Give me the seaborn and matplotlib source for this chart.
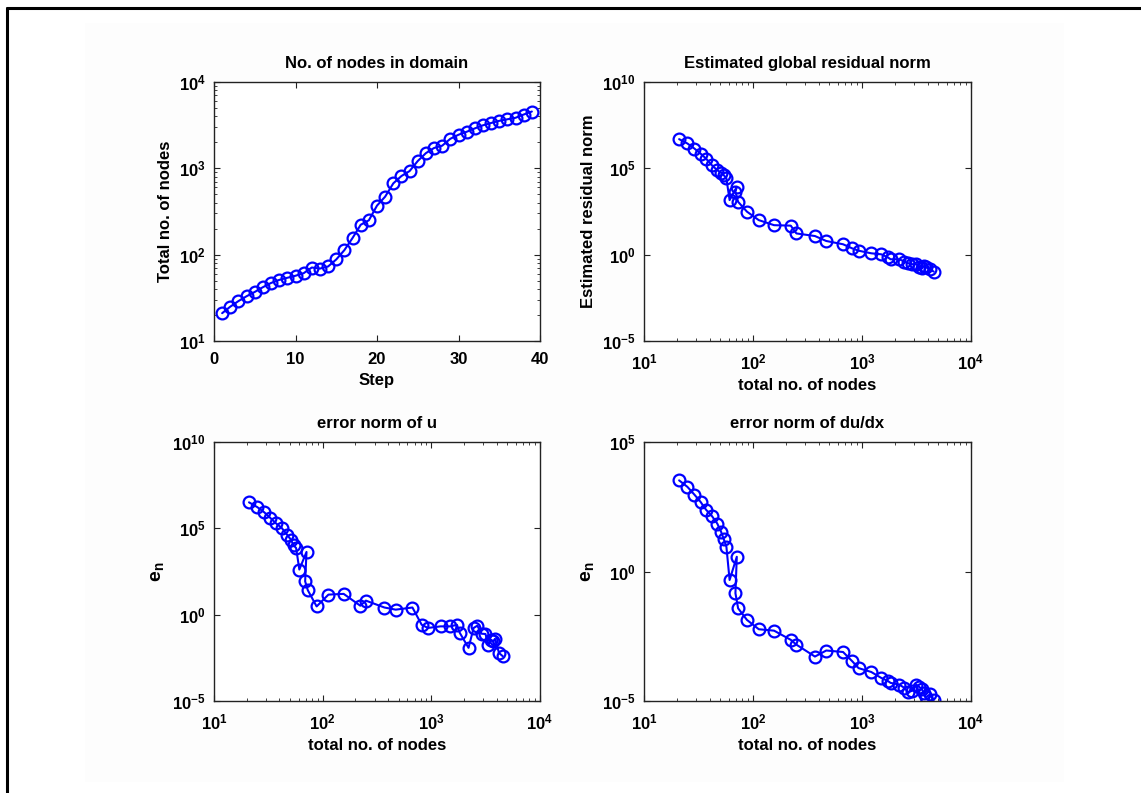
import numpy as np
import pandas as pd
import matplotlib
matplotlib.use("Agg")
import matplotlib.pyplot as plt
from matplotlib.ticker import FixedLocator, FixedFormatter, LogLocator, NullLocator, NullFormatter
from matplotlib.lines import Line2D
from matplotlib.patches import Rectangle
import seaborn as sns

# ---- data -------------------------------------------------------------
steps = list(range(1, 40))

total_nodes = [21, 25, 29, 33, 37, 42, 47, 51, 54, 57,
               61, 71, 69, 73, 88, 113, 156, 222, 250, 370,
               470, 670, 815, 930, 1215, 1500, 1720, 1830, 2200, 2450,
               2650, 2900, 3150, 3350, 3550, 3700, 3850, 4200, 4550]

residual_norm = [4.9e6, 2.75e6, 1.4e6, 7.2e5, 3.7e5, 1.5e5, 7.8e4, 5.5e4, 4.0e4, 2.6e4,
                 1.45e3, 8.5e3, 4.4e3, 1.15e3, 310, 100, 51, 48, 17, 12,
                 6.2, 4.0, 2.3, 1.7, 1.2, 1.05, 0.71, 0.54, 0.54, 0.40,
                 0.32, 0.28, 0.28, 0.20, 0.16, 0.22, 0.19, 0.14, 0.105]

error_u = [3.2e6, 1.7e6, 8.5e5, 4.0e5, 2.0e5, 1.05e5, 4.3e4, 2.2e4, 1.05e4, 7.2e3,
           410, 4.3e3, 85, 26, 3.0, 14.5, 16, 3.3, 6.5, 2.6,
           1.95, 2.6, 0.26, 0.17, 0.21, 0.21, 0.26, 0.087, 0.012, 0.17,
           0.23, 0.079, 0.076, 0.018, 0.035, 0.028, 0.04, 0.006, 0.0039]

error_dudx = [3.3e3, 1.86e3, 930, 490, 245, 138, 71, 34, 17.4, 9.1,
              0.47, 3.7, 0.145, 0.038, 0.0135, 0.0059, 0.0052, 0.0023, 0.0015, 5.2e-4,
              8.9e-4, 7.8e-4, 3.4e-4, 1.86e-4, 1.32e-4, 7.8e-5, 6.0e-5, 5.0e-5, 4.3e-5, 3.2e-5,
              2.2e-5, 2.5e-5, 4.3e-5, 3.5e-5, 2.8e-5, 2.0e-5, 1.4e-5, 1.8e-5, 1.1e-5]

df = pd.DataFrame({
    "step": steps,
    "nodes": total_nodes,
    "residual": residual_norm,
    "err_u": error_u,
    "err_dudx": error_dudx,
})

# ---- style ------------------------------------------------------------
sns.set_style("ticks")
plt.rcParams.update({
    "font.family": ["Liberation Sans", "DejaVu Sans"],
    "font.weight": "bold",
    "font.size": 12,
    "text.color": "black",
    "axes.labelcolor": "black",
    "xtick.color": "black",
    "ytick.color": "black",
    "xtick.labelcolor": "black",
    "ytick.labelcolor": "black",
    "axes.titleweight": "bold",
    "axes.labelweight": "bold",
    "axes.linewidth": 1.0,
    "axes.edgecolor": "black",
    "mathtext.fontset": "custom",
    "mathtext.rm": "Liberation Sans:bold",
    "mathtext.it": "Liberation Sans:bold",
    "mathtext.bf": "Liberation Sans:bold",
    "xtick.direction": "in",
    "ytick.direction": "in",
    "xtick.top": True,
    "ytick.right": True,
    "xtick.major.size": 4,
    "ytick.major.size": 4,
    "xtick.minor.size": 2,
    "ytick.minor.size": 2,
    "xtick.major.pad": 8,
    "ytick.major.pad": 6,
})

W, H = 1141, 793
fig = plt.figure(figsize=(W / 100, H / 100), dpi=100)
fig.patch.set_facecolor("white")

# faint figure panel and frame lines
fig.add_artist(Rectangle((85 / W, 1 - 782 / H), (1064 - 85) / W, (782 - 23) / H,
                         transform=fig.transFigure, facecolor="#fdfdfd",
                         edgecolor="none", zorder=-10))
fig.add_artist(Line2D([7 / W, 1.0], [1 - 8 / H, 1 - 8 / H], transform=fig.transFigure,
                      color="black", lw=2.2))
fig.add_artist(Line2D([7 / W, 7 / W], [0.0, 1 - 8 / H], transform=fig.transFigure,
                      color="black", lw=2.2))


def box(l, t, r, b):
    return [l / W, 1 - b / H, (r - l) / W, (b - t) / H]


ax1 = fig.add_axes(box(214, 82, 540, 341))
ax2 = fig.add_axes(box(644, 82, 971, 341))
ax3 = fig.add_axes(box(214, 442, 540, 701))
ax4 = fig.add_axes(box(644, 442, 971, 701))

line_kw = dict(color="#0000ff", marker="o", markersize=8.5, markerfacecolor="none",
               markeredgecolor="#0000ff", markeredgewidth=1.6, linewidth=1.5,
               estimator=None, sort=False, legend=False)

sns.lineplot(data=df, x="step", y="nodes", ax=ax1, **line_kw)
sns.lineplot(data=df, x="nodes", y="residual", ax=ax2, **line_kw)
sns.lineplot(data=df, x="nodes", y="err_u", ax=ax3, **line_kw)
sns.lineplot(data=df, x="nodes", y="err_dudx", ax=ax4, **line_kw)


def pow_labels(exps):
    return [r"$10^{%d}$" % e for e in exps]


def log_axis(axis, lo, hi, step, minor):
    exps = list(range(lo, hi + 1, step))
    axis.set_major_locator(FixedLocator([10.0 ** e for e in exps]))
    axis.set_major_formatter(FixedFormatter(pow_labels(exps)))
    if minor:
        axis.set_minor_locator(LogLocator(base=10, subs=np.arange(2, 10), numticks=50))
    else:
        axis.set_minor_locator(NullLocator())
    axis.set_minor_formatter(NullFormatter())


# panel 1: node count per step
ax1.set_yscale("log")
ax1.set_xlim(0, 40)
ax1.set_ylim(10, 1e4)
ax1.set_xticks([0, 10, 20, 30, 40])
log_axis(ax1.yaxis, 1, 4, 1, True)
ax1.set_title("No. of nodes in domain", fontsize=12, fontweight="bold", pad=10)
ax1.set_xlabel("Step", fontsize=12, fontweight="bold")
ax1.set_ylabel("Total no. of nodes", fontsize=12, fontweight="bold")

# panels 2-4: norms against node count
for ax in (ax2, ax3, ax4):
    ax.set_xscale("log")
    ax.set_yscale("log")
    ax.set_xlim(10, 1e4)
    log_axis(ax.xaxis, 1, 4, 1, True)
    ax.set_xlabel("total no. of nodes", fontsize=12, fontweight="bold")

ax2.set_ylim(1e-5, 1e10)
log_axis(ax2.yaxis, -5, 10, 5, False)
ax2.set_title("Estimated global residual norm", fontsize=12, fontweight="bold", pad=10)
ax2.set_ylabel("Estimated residual norm", fontsize=12, fontweight="bold")

ax3.set_ylim(1e-5, 1e10)
log_axis(ax3.yaxis, -5, 10, 5, False)
ax3.set_title("error norm of u", fontsize=12, fontweight="bold", pad=10)
ax3.set_ylabel(r"$\mathrm{e_n}$", fontsize=14)

ax4.set_ylim(1e-5, 1e5)
log_axis(ax4.yaxis, -5, 5, 5, False)
ax4.set_title("error norm of du/dx", fontsize=12, fontweight="bold", pad=10)
ax4.set_ylabel(r"$\mathrm{e_n}$", fontsize=14)

for ax in (ax1, ax2, ax3, ax4):
    ax.set_facecolor("white")
    for s in ax.spines.values():
        s.set_visible(True)
        s.set_color("#222222")
    ax.tick_params(which="both", direction="in", top=True, right=True, labelsize=12,
                   color="#222222", labelcolor="black")
    for lab in ax.get_xticklabels() + ax.get_yticklabels():
        lab.set_fontweight("bold")

fig.savefig("out.png", dpi=100)
